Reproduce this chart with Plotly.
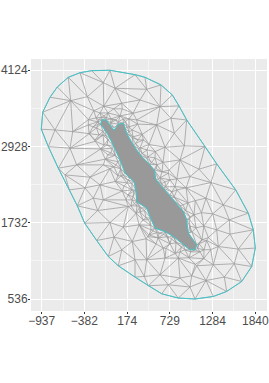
import plotly.graph_objects as go

x_ticks = [-937, -382, 174, 729, 1284, 1840]
y_ticks = [536, 1732, 2928, 4124]
x_labels = ["\u2212937", "\u2212382", "174", "729", "1284", "1840"]
y_labels = ["536", "1732", "2928", "4124"]
x_minor = [-659.5, -104, 451.5, 1006.5, 1562]
y_minor = [1134, 2330, 3526]

outer_x = [-287,-49,276,406,614,761,848,948,1186,1338,1585,1749,1814,1840,1793,1663,1468,1294,1056,839,623,449,276,59,-71,-222,-378,-474,-578,-721,-851,-942,-924,-829,-734,-591,-439]
outer_y = [4118,4124,4055,4014,3894,3737,3565,3345,2927,2656,2248,1883,1621,1335,1046,811,655,576,536,551,618,744,880,1057,1203,1454,1726,1998,2248,2588,2927,3199,3466,3701,3862,4014,4086]

lake_x = [-153,-101,-49,3,59,124,146,168,254,341,462,523,549,644,753,904,948,969,1078,1056,991,904,774,666,536,480,428,298,289,263,211,146,81,3,-49,-114,-170]
lake_y = [3345,3345,3267,3184,3278,3293,3215,3137,2953,2797,2651,2562,2405,2275,2118,1908,1778,1570,1386,1308,1308,1386,1517,1595,1648,1805,1962,2065,2248,2378,2432,2510,2718,2927,3058,3188,3278]

inner_x = [-560,-344,-136,16,103,-764,-534,-331,-569,-482,-309,-634,-244,-136,341,428,601,744,558,787,666,917,861,1108,991,1264,384,298,709,796,-209,-49,3,124,241,-136,189,-266,103,1286,1502,1424,1199,1208,1511,1619,1338,1078,1294,1567,1437,1199,1013,861,709,601,666,441,428,276,991,644,839,397,1359,-374,-179]
inner_y = [3648,3710,3930,3842,3607,3188,3162,3267,2902,2640,2447,2483,3032,2640,3659,3826,3554,3372,3267,3137,2917,2938,2718,2573,2457,2363,3032,3345,2510,2300,1924,1736,1507,1664,1438,2092,1987,2118,1308,1872,1778,2013,2118,1454,1554,1319,1621,1057,1073,1089,880,827,901,865,760,916,1178,1517,1151,1151,724,1335,1178,890,1360,2280,2327]

ring_a_x = [-231,-270,-192,-127,-75,3,55,133,185,224,341,380,458,575,731,861,978,-179,-75,-10,81,198,237,315,432,536,627,731,822,965,1043,1069,1147,1173]
ring_a_y = [3377,3236,3110,2953,2797,2608,2468,2311,2170,1997,1903,1778,1542,1496,1402,1276,1183,3455,3455,3345,3408,3361,3188,3032,2875,2750,2530,2405,2248,2045,1857,1653,1465,1308]

ring_b_x = [-205,-225,-140,-88,-36,29,94,172,237,237,302,354,419,484,562,692,809,926,-127,-36,29,124,198,250,341,445,562,601,666,757,900,991,1017,1108,1121]
ring_b_y = [3314,3220,3110,2953,2828,2640,2468,2358,2248,2092,1997,1966,1810,1622,1575,1512,1418,1308,3408,3361,3345,3361,3236,3080,2907,2766,2640,2436,2373,2217,2014,1825,1590,1402,1277]

ring_c_x = [880,750,650,510,450,400,270,262,235,185,120,55,-22,-75,-140,-200,820,700,590,480,335,250,90,20,-100,1105,1000,978,935,785,672,580,553,490,370,282,198,175,150,60,3,-40,-95,-160,-196,1000,1090,990,860,730,620,430,325,240]
ring_c_y = [1350,1480,1550,1605,1780,1925,2030,2230,2350,2400,2480,2690,2900,3030,3165,3280,1420,1510,1570,1690,1975,2140,2580,2790,3095,1400,1590,1790,1925,2135,2295,2420,2580,2675,2820,2975,3155,3235,3320,3315,3225,3300,3380,3385,3350,1275,1330,1680,2000,2175,2345,2745,2890,3065]

ring_d_x = [800,680,550,420,330,290,160,110,20,-50,-110,-170,-240,-320,-330,-260,-130,0,110,250,310,370,460,540,640,720,820,940,1060,1140,1170,1230,1260,1170,1060]
ring_d_y = [1250,1330,1400,1480,1700,1880,2090,2230,2380,2580,2730,2890,3010,3130,3350,3490,3560,3520,3520,3450,3280,3120,2960,2850,2680,2560,2420,2280,2080,1890,1680,1500,1310,1170,1080]


def delaunay(points):
    """Bowyer-Watson triangulation of the read-off mesh nodes."""
    big = 1e5
    pts = list(points) + [(-big, -big), (big, -big), (0.0, big)]
    n = len(points)
    tris = [(n, n + 1, n + 2)]

    def in_circle(t, p):
        ax, ay = pts[t[0]][0] - p[0], pts[t[0]][1] - p[1]
        bx, by = pts[t[1]][0] - p[0], pts[t[1]][1] - p[1]
        cx, cy = pts[t[2]][0] - p[0], pts[t[2]][1] - p[1]
        det = ((ax * ax + ay * ay) * (bx * cy - cx * by)
               - (bx * bx + by * by) * (ax * cy - cx * ay)
               + (cx * cx + cy * cy) * (ax * by - bx * ay))
        ori = ((pts[t[1]][0] - pts[t[0]][0]) * (pts[t[2]][1] - pts[t[0]][1])
               - (pts[t[1]][1] - pts[t[0]][1]) * (pts[t[2]][0] - pts[t[0]][0]))
        return det * ori > 0

    for i, p in enumerate(points):
        bad = [t for t in tris if in_circle(t, p)]
        count = {}
        for t in bad:
            for e in ((t[0], t[1]), (t[1], t[2]), (t[2], t[0])):
                k = tuple(sorted(e))
                count[k] = count.get(k, 0) + 1
        tris = [t for t in tris if t not in bad]
        tris += [(a, b, i) for (a, b), c in count.items() if c == 1]
    return [t for t in tris if max(t) < n]


def inside(px, py, xs, ys):
    res = False
    j = len(xs) - 1
    for i in range(len(xs)):
        if (ys[i] > py) != (ys[j] > py) and px < xs[i] + (py - ys[i]) * (xs[j] - xs[i]) / (ys[j] - ys[i]):
            res = not res
        j = i
    return res


nodes = []
seen = set()
for xs, ys in ((outer_x, outer_y), (lake_x, lake_y), (inner_x, inner_y), (ring_a_x, ring_a_y),
               (ring_b_x, ring_b_y), (ring_c_x, ring_c_y), (ring_d_x, ring_d_y)):
    for a, b in zip(xs, ys):
        if (a, b) not in seen:
            seen.add((a, b))
            nodes.append((float(a), float(b)))

edges = set()
for t in delaunay(nodes):
    cx = sum(nodes[i][0] for i in t) / 3
    cy = sum(nodes[i][1] for i in t) / 3
    if inside(cx, cy, outer_x, outer_y) and not inside(cx, cy, lake_x, lake_y):
        for e in ((t[0], t[1]), (t[1], t[2]), (t[2], t[0])):
            edges.add(tuple(sorted(e)))

mesh_x, mesh_y = [], []
for a, b in edges:
    mesh_x += [nodes[a][0], nodes[b][0], None]
    mesh_y += [nodes[a][1], nodes[b][1], None]

GREY = "#999999"
CYAN = "#3FC6CB"

fig = go.Figure()
fig.add_trace(go.Scatter(x=mesh_x, y=mesh_y, mode="lines",
                         line=dict(color=GREY, width=0.75), hoverinfo="skip"))
fig.add_trace(go.Scatter(x=lake_x + lake_x[:1], y=lake_y + lake_y[:1], mode="lines",
                         fill="toself", fillcolor=GREY,
                         line=dict(color=CYAN, width=1), hoverinfo="skip"))
fig.add_trace(go.Scatter(x=outer_x + outer_x[:1], y=outer_y + outer_y[:1], mode="lines",
                         line=dict(color=CYAN, width=1), hoverinfo="skip"))

axis = dict(showgrid=True, gridcolor="white", gridwidth=1, zeroline=False, automargin=False,
            showline=False, ticks="outside", ticklen=2, tickwidth=1,
            tickcolor="#333333", tickfont=dict(family="Liberation Sans", size=12, color="#4D4D4D"))

fig.update_xaxes(range=[-1076, 1992], tickmode="array", tickvals=x_ticks, ticktext=x_labels,
                 ticklabelstandoff=-3,
                 minor=dict(tickvals=x_minor, showgrid=True, gridcolor="#F5F5F5", gridwidth=0.5, ticks=""),
                 **axis)
fig.update_yaxes(range=[348, 4301], tickmode="array", tickvals=y_ticks, ticktext=y_labels,
                 ticklabelstandoff=-2,
                 minor=dict(tickvals=y_minor, showgrid=True, gridcolor="#F5F5F5", gridwidth=0.5, ticks=""),
                 **axis)

fig.update_layout(width=269, height=383, autosize=False, showlegend=False,
                  margin=dict(l=31, r=2, t=59, b=72),
                  plot_bgcolor="#EBEBEB", paper_bgcolor="white")
fig.write_html("out.html", config=dict(displayModeBar=False),
               post_script="document.body.style.margin='0';document.documentElement.style.overflow='hidden';")
